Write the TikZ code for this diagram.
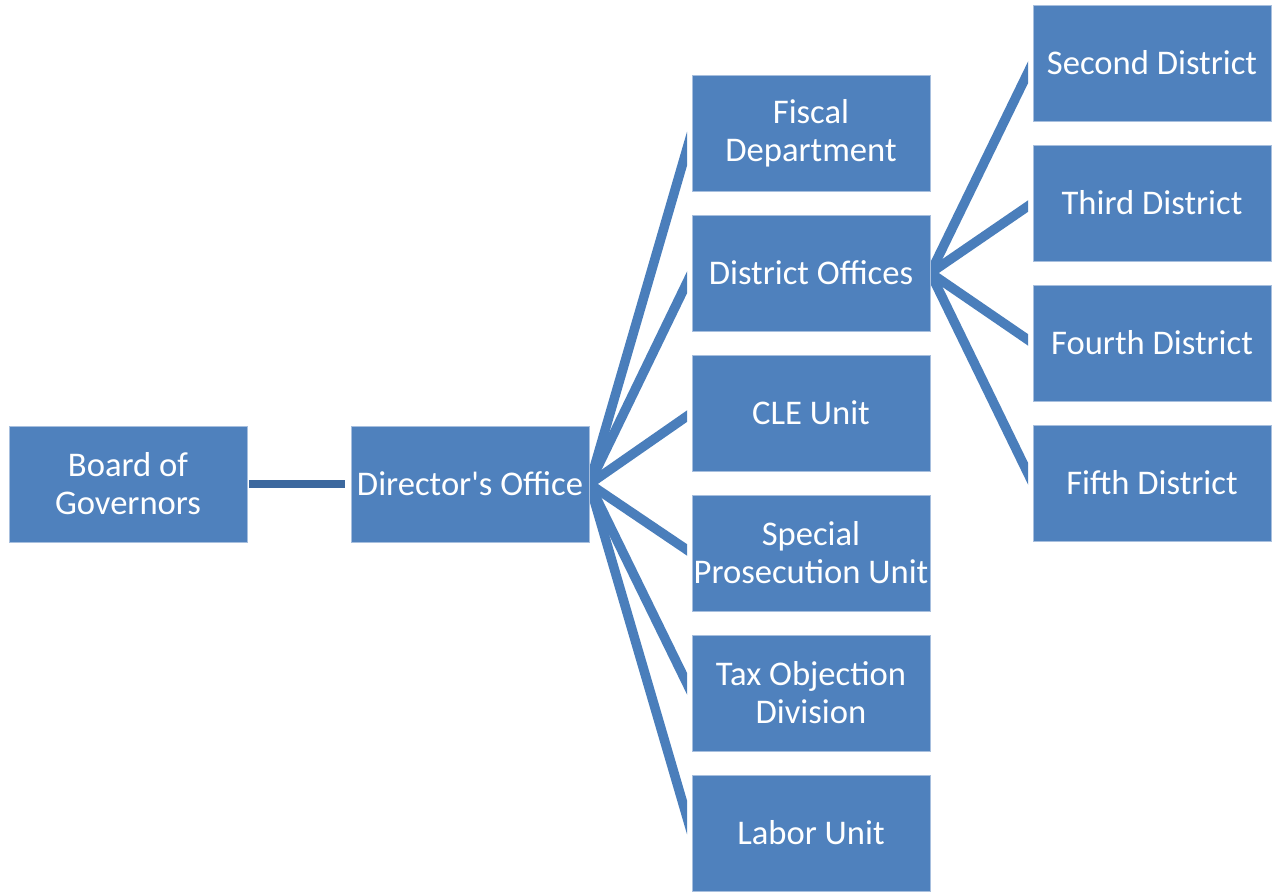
\documentclass[tikz,border=0pt]{standalone}
\usepackage{fontspec}
\setmainfont{Carlito}
\usepackage{xcolor}
\definecolor{boxblue}{RGB}{79,129,189}
\definecolor{boxedge}{RGB}{167,191,222}
\definecolor{linkblue}{RGB}{74,126,187}
\definecolor{linkdark}{RGB}{60,104,158}
\tikzset{%
	unit/.style    = {draw=boxedge, line width=0.5pt, fill=boxblue, text=white, rectangle, minimum width=4.76cm, minimum height=2.32cm, inner sep=0pt, align=center, font=\fontsize{19.7}{21.5}\selectfont},
	link/.style    = {draw=linkblue, line width=5.4pt},
	toplink/.style = {draw=linkdark, line width=5pt},
}
\begin{document}
\begin{tikzpicture}[x=0.02cm,y=0.02cm]
	\useasboundingbox (0,0) rectangle (1272,892);
	
	\node[unit] (board) at (128,408) {Board of\\Governors};
	\node[unit] (dir) at (470,408) {Director\textquotesingle s Office};
	
	\node[unit] (fisc) at (811,759) {Fiscal\\Department};
	\node[unit] (dist) at (811,619) {District Offices};
	\node[unit] (cle)  at (811,479) {CLE Unit};
	\node[unit] (spec) at (811,339) {Special\\Prosecution Unit};
	\node[unit] (tax)  at (811,199) {Tax Objection\\Division};
	\node[unit] (lab)  at (811,59)  {Labor Unit};
	
	\node[unit] (sec)  at (1152,829) {Second District};
	\node[unit] (thi)  at (1152,689) {Third District};
	\node[unit] (fou)  at (1152,549) {Fourth District};
	\node[unit] (fif)  at (1152,409) {Fifth District};
	
	\draw[toplink] ([xshift=0.04cm]board.east) -- ([xshift=-0.12cm]dir.west);
	
	\begin{scope}
	\clip (590,0) rectangle (687,892);  % cut the fan ends
	\foreach \n in {fisc,dist,cle,spec,tax,lab}
		\draw[link] (dir.east) -- (\n.west);
	\end{scope}
	
	\begin{scope}
	\clip (931,0) rectangle (1028,892);
	\foreach \n in {sec,thi,fou,fif}
		\draw[link] (dist.east) -- (\n.west);
	\end{scope}
	
\end{tikzpicture}
\end{document}
